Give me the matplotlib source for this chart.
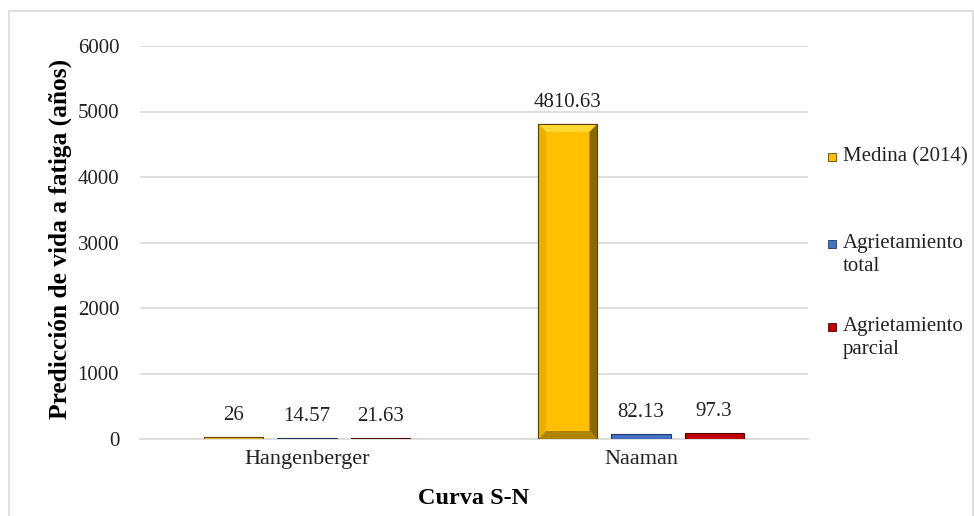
import matplotlib
matplotlib.use("Agg")
import matplotlib.pyplot as plt
import numpy as np
from matplotlib.patches import Rectangle, Polygon

categories = ["Hangenberger", "Naaman"]
series_names = ["Medina (2014)", "Agrietamiento\ntotal", "Agrietamiento\nparcial"]
medina = [26, 4810.63]
agr_total = [14.57, 82.13]
agr_parcial = [21.63, 97.3]
value_labels = [["26", "4810.63"], ["14.57", "82.13"], ["21.63", "97.3"]]
yticks = [0, 1000, 2000, 3000, 4000, 5000, 6000]

colors = ["#FFC000", "#4472C4", "#C00000"]
edges = ["#5A4400", "#1F3864", "#500000"]
tops = ["#FFD835", "#6A92D8", "#D83030"]
lefts = ["#E8B000", "#3D66AE", "#A80000"]
rights = ["#8A6800", "#2A4A80", "#700000"]
bottoms = ["#B08400", "#2F5597", "#800000"]

plt.rcParams['font.family'] = ['Liberation Serif', 'DejaVu Serif']

fig = plt.figure(figsize=(9.74, 5.16), dpi=100)
W, H = 974, 516
ax = fig.add_axes([140 / W, (H - 439) / H, (808 - 140) / W, (439 - 46) / H])

x = np.arange(len(categories))
step = 0.219
width = 0.177
series = [medina, agr_total, agr_parcial]
ax.set_xlim(-0.5, 1.5)
ax.set_ylim(0, 6000)
all_bars = []
for i, vals in enumerate(series):
    pos = x + (i - 1) * step
    bars = ax.bar(pos, vals, width=width, color=colors[i], edgecolor=edges[i],
                  linewidth=0.8, zorder=3)
    all_bars.append(bars)
    for b, lab in zip(bars, value_labels[i]):
        ax.annotate(lab, (b.get_x() + b.get_width() / 2, b.get_height()),
                    xytext=(0, 8.5), textcoords="offset points",
                    ha="center", va="bottom", fontsize=15, color="#222222")

# bevel effect in display coordinates
fig.canvas.draw()
bev = 8
for i, bars in enumerate(all_bars):
    for b in bars:
        x0, y0 = ax.transData.transform((b.get_x(), 0))
        x1, y1 = ax.transData.transform((b.get_x() + b.get_width(), b.get_height()))
        h = y1 - y0
        if h < 2 * bev + 2:
            continue
        ix0, ix1, iy0, iy1 = x0 + bev, x1 - bev, y0 + bev, y1 - bev
        polys = [
            ([(x0, y1), (x1, y1), (ix1, iy1), (ix0, iy1)], tops[i]),
            ([(x0, y0), (x0, y1), (ix0, iy1), (ix0, iy0)], lefts[i]),
            ([(x1, y0), (x1, y1), (ix1, iy1), (ix1, iy0)], rights[i]),
            ([(x0, y0), (x1, y0), (ix1, iy0), (ix0, iy0)], bottoms[i]),
        ]
        for pts, c in polys:
            p = Polygon(np.array(pts), closed=True, transform=None, facecolor=c,
                        edgecolor="none", zorder=3.5)
            ax.add_artist(p)
        ax.add_artist(Rectangle((x0, y0), x1 - x0, h, transform=None, fill=False,
                                edgecolor=edges[i], linewidth=0.8, zorder=3.6))

ax.set_yticks(yticks)
ax.set_yticklabels([str(t) for t in yticks], fontsize=15, color="#222222")
ax.set_xticks(x)
ax.set_xticklabels(categories, fontsize=16, color="#222222")
ax.tick_params(axis="y", length=0, pad=15)
ax.tick_params(axis="x", length=0, pad=8)
ax.grid(axis="y", color="#D9D9D9", linewidth=1.2, zorder=0)
for s in ["top", "right", "left"]:
    ax.spines[s].set_visible(False)
ax.spines["bottom"].set_color("#D9D9D9")
ax.spines["bottom"].set_linewidth(1.2)

ax.set_ylabel("Predicción de vida a fatiga (años)", fontsize=18.3, fontweight="bold")
ax.yaxis.set_label_coords((60 - 140) / (808 - 140), 0.51)
ax.set_xlabel("Curva S-N", fontsize=17.5, fontweight="bold")
ax.xaxis.set_label_coords(0.5, -(499 - 439) / (439 - 46))
ax.xaxis.label.set_va("center")
ax.yaxis.label.set_va("center")

# legend (manual, Excel-like)
leg_items = [(157, 0), (244, 1), (327, 2)]
for yc, i in leg_items:
    fig.patches.append(Rectangle((828 / W, (H - yc - 4) / H), 8 / W, 8 / H,
                                 transform=fig.transFigure, facecolor=colors[i],
                                 edgecolor=edges[i], linewidth=0.6))
    fig.text(843 / W, (H - yc + 10) / H, series_names[i], fontsize=15,
             va="top", ha="left", color="#222222", linespacing=1.3)

# outer border
fig.patches.append(Rectangle((9 / W, -0.01), (973 - 9) / W, (H - 11) / H + 0.01,
                             transform=fig.transFigure, fill=False,
                             edgecolor="#D9D9D9", linewidth=1.2))

fig.savefig("out.png", dpi=100)
